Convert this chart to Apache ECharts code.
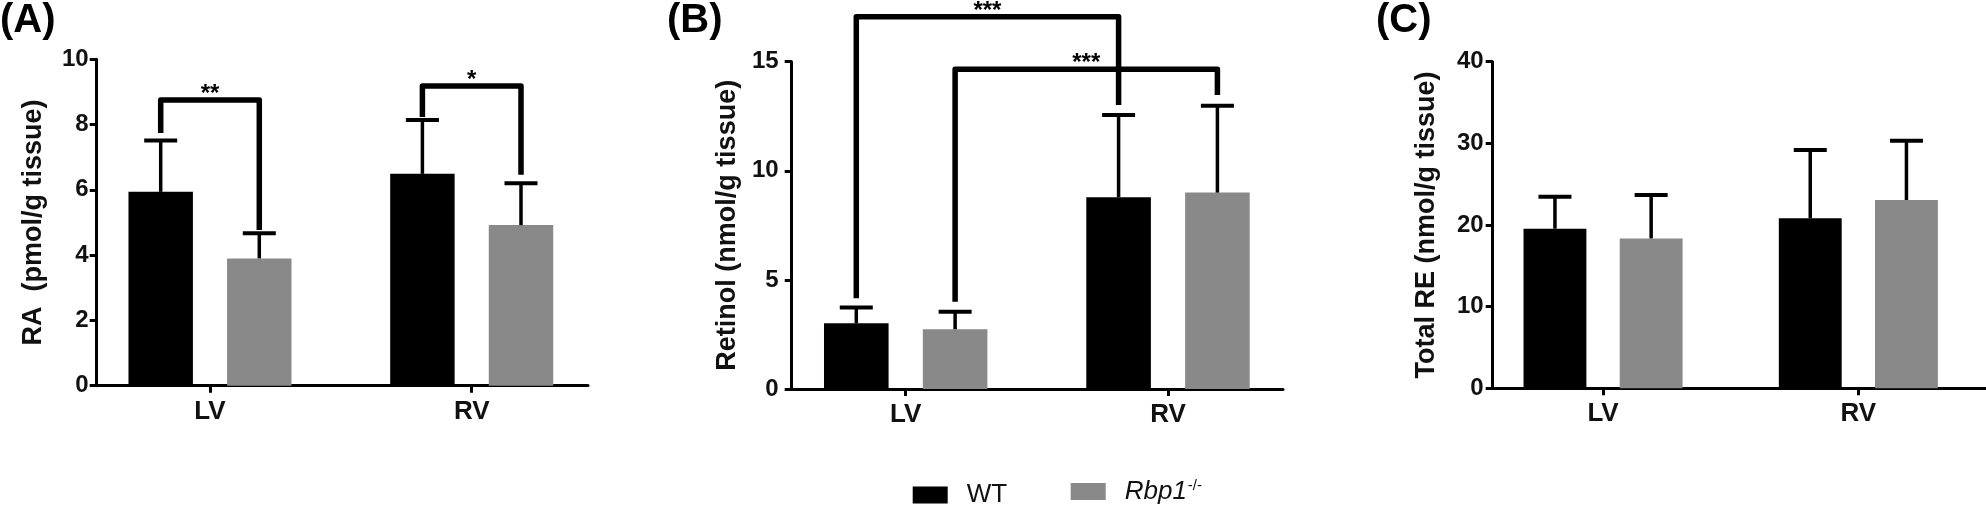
<!DOCTYPE html>
<html>
<head>
<meta charset="utf-8">
<script src="https://cdn.jsdelivr.net/npm/echarts@6/dist/echarts.min.js"></script>
<style>
html,body{margin:0;padding:0;background:#fff;}
#chart{width:1986px;height:508px;}
</style>
</head>
<body>
<div id="chart"></div>
<script>
// ---------- data ----------
const CATEGORIES = ['LV', 'RV'];
const SERIES_NAMES = ['WT', 'Rbp1'];

// Panel A: RA (pmol/g tissue)
const A_WT = [5.94, 6.49];
const A_WT_SD = [1.57, 1.65];
const A_KO = [3.90, 4.92];
const A_KO_SD = [0.77, 1.28];
const A_TICKS = [0, 2, 4, 6, 8, 10];
// brackets: [fromCat, fromSeries, toCat, toSeries, leftEnd, top, rightEnd]
const A_BRACKETS = [[0, 0, 0, 1, 7.74, 8.75, 4.77], [1, 0, 1, 1, 8.23, 9.18, 6.46]];
const A_BRACKET_LABELS = ['**', '*'];

// Panel B: Retinol (nmol/g tissue)
const B_WT = [3.01, 8.79];
const B_WT_SD = [0.73, 3.77];
const B_KO = [2.74, 9.00];
const B_KO_SD = [0.80, 3.98];
const B_TICKS = [0, 5, 10, 15];
const B_BRACKETS = [[0, 0, 1, 0, 4.16, 17.06, 13.02], [0, 1, 1, 1, 4.00, 14.65, 13.47]];
const B_BRACKET_LABELS = ['***', '***'];

// Panel C: Total RE (nmol/g tissue)
const C_WT = [19.55, 20.82];
const C_WT_SD = [3.92, 8.36];
const C_KO = [18.36, 23.06];
const C_KO_SD = [5.32, 7.26];
const C_TICKS = [0, 10, 20, 30, 40];
const C_BRACKETS = [];
const C_BRACKET_LABELS = [];

// ---------- layout / style ----------
const FONT = '"Liberation Sans", Arial, Helvetica, sans-serif';
const COLORS = ['#000000', '#898989'];
const CAT_GAP = 0.377, BAR_GAP = 0.53;

const panels = [
  {letter: '(A)', letterLeft: 0, name: 'RA  (pmol/g tissue)', wt: A_WT, wtSd: A_WT_SD, ko: A_KO, koSd: A_KO_SD,
   ticks: A_TICKS, brackets: A_BRACKETS, labels: A_BRACKET_LABELS,
   catLeft: 79.15, catWidth: 523.4, axLeft: 96.7, axWidth: 491.3, top: 59.3, height: 326.4, nameGap: 50, labelMargin: 8},
  {letter: '(B)', letterLeft: 667, name: 'Retinol (nmol/g tissue)', wt: B_WT, wtSd: B_WT_SD, ko: B_KO, koSd: B_KO_SD,
   ticks: B_TICKS, brackets: B_BRACKETS, labels: B_BRACKET_LABELS,
   catLeft: 774.55, catWidth: 524.6, axLeft: 791.7, axWidth: 491.3, top: 61.7, height: 327.3, nameGap: 51, labelMargin: 13},
  {letter: '(C)', letterLeft: 1376, name: 'Total RE (nmol/g tissue)', wt: C_WT, wtSd: C_WT_SD, ko: C_KO, koSd: C_KO_SD,
   ticks: C_TICKS, brackets: C_BRACKETS, labels: C_BRACKET_LABELS,
   catLeft: 1475.4, catWidth: 525.2, axLeft: 1492.7, axWidth: 493.3, top: 61.7, height: 326.6, nameGap: 53, labelMargin: 9}
];

function barOffset(band) {
  const bw = band * (1 - CAT_GAP) / (2 + BAR_GAP);
  return bw * (1 + BAR_GAP) / 2;
}

function errorRender(params, api) {
  const cat = api.value(0), s = api.value(1), m = api.value(2), sd = api.value(3);
  const band = api.size([1, 0])[0];
  const off = barOffset(band) * (s === 0 ? -1 : 1);
  const p0 = api.coord([cat, m]);
  const p1 = api.coord([cat, m + sd]);
  const x = p0[0] + off;
  return {
    type: 'group',
    children: [
      {type: 'line', shape: {x1: x, y1: p0[1], x2: x, y2: p1[1]}, style: {stroke: '#000', lineWidth: 3.5}},
      {type: 'line', shape: {x1: x - 16.5, y1: p1[1], x2: x + 16.5, y2: p1[1]}, style: {stroke: '#000', lineWidth: 4}}
    ]
  };
}

function bracketRender(labels) {
  return function (params, api) {
    const fc = api.value(0), fs = api.value(1), tc = api.value(2), ts = api.value(3);
    const y1 = api.value(4), top = api.value(5), y2 = api.value(6);
    const band = api.size([1, 0])[0];
    const off = barOffset(band);
    const xa = api.coord([fc, 0])[0] + (fs ? off : -off);
    const xb = api.coord([tc, 0])[0] + (ts ? off : -off);
    const pa = api.coord([fc, y1])[1];
    const pt = api.coord([fc, top])[1];
    const pb = api.coord([tc, y2])[1];
    return {
      type: 'group',
      children: [
        {type: 'polyline', shape: {points: [[xa, pa], [xa, pt], [xb, pt], [xb, pb]]},
         style: {stroke: '#000', lineWidth: 5.5, fill: null, lineJoin: 'round'}},
        {type: 'text', style: {text: labels[params.dataIndex], x: (xa + xb) / 2, y: pt - 5.5,
          align: 'center', verticalAlign: 'middle', fontSize: 24, fontWeight: 'bold', fontFamily: FONT, fill: '#000'}}
      ]
    };
  };
}

const option = {
  animation: false,
  backgroundColor: '#fff',
  title: [], grid: [], xAxis: [], yAxis: [], series: [],
  legend: [
    {data: ['WT'], left: 912.7, top: 482, padding: 0, icon: 'rect', itemWidth: 35, itemHeight: 17,
     textStyle: {fontSize: 26, fontFamily: FONT, color: '#111', padding: [0, 0, 0, 14]}},
    {data: ['Rbp1'], left: 1070.7, top: 478, padding: 0, icon: 'rect', itemWidth: 35, itemHeight: 17,
     formatter: function () { return '{i|Rbp1}{s|-/-}'; },
     textStyle: {fontSize: 26, fontFamily: FONT, color: '#111', padding: [0, 0, 0, 14],
       rich: {i: {fontStyle: 'italic', fontSize: 26, fontFamily: FONT, color: '#111'},
              s: {fontSize: 15, fontFamily: FONT, color: '#111', padding: [0, 0, 12, 1]}}}}
  ]
};

panels.forEach(function (p, k) {
  const g0 = 2 * k, g1 = 2 * k + 1;
  const tmin = p.ticks[0], tmax = p.ticks[p.ticks.length - 1], tint = p.ticks[1] - p.ticks[0];
  option.title.push({text: p.letter, left: p.letterLeft, top: 1, padding: 0,
    textStyle: {fontSize: 40, fontWeight: 'bold', fontFamily: FONT, color: '#000'}});
  option.grid.push({left: p.catLeft, width: p.catWidth, top: p.top, height: p.height});
  option.grid.push({left: p.axLeft, width: p.axWidth, top: p.top, height: p.height});
  option.xAxis.push({type: 'category', gridIndex: g0, data: CATEGORIES,
    axisLine: {show: false},
    axisTick: {show: true, alignWithLabel: true, length: 7, lineStyle: {width: 3, color: '#000'}},
    axisLabel: {fontSize: 26, fontWeight: 'bold', fontFamily: FONT, color: '#111', margin: 13},
    splitLine: {show: false}});
  option.xAxis.push({type: 'value', gridIndex: g1, min: 0, max: 1,
    axisLine: {show: true, lineStyle: {width: 3, color: '#000'}},
    axisTick: {show: false}, axisLabel: {show: false}, splitLine: {show: false}});
  option.yAxis.push({type: 'value', gridIndex: g0, min: tmin, max: tmax, interval: tint, show: false});
  option.yAxis.push({type: 'value', gridIndex: g1, min: tmin, max: tmax, interval: tint,
    name: p.name, nameLocation: 'middle', nameRotate: 90, nameGap: p.nameGap,
    nameTextStyle: {fontSize: 27, fontWeight: 'bold', fontFamily: FONT, color: '#111'},
    axisLine: {show: true, lineStyle: {width: 3, color: '#000'}},
    axisTick: {show: true, length: 7, lineStyle: {width: 3, color: '#000'}},
    axisLabel: {fontSize: 24, fontWeight: 'bold', fontFamily: FONT, color: '#111', margin: p.labelMargin},
    splitLine: {show: false}});
  const vals = [p.wt, p.ko], sds = [p.wtSd, p.koSd];
  SERIES_NAMES.forEach(function (nm, s) {
    option.series.push({type: 'bar', name: nm, xAxisIndex: g0, yAxisIndex: g0, data: vals[s],
      barCategoryGap: (CAT_GAP * 100) + '%', barGap: (BAR_GAP * 100) + '%',
      itemStyle: {color: COLORS[s]}, emphasis: {disabled: true}});
  });
  const errData = [];
  CATEGORIES.forEach(function (c, i) {
    for (let s = 0; s < 2; s++) errData.push([i, s, vals[s][i], sds[s][i]]);
  });
  option.series.push({type: 'custom', xAxisIndex: g0, yAxisIndex: g0, renderItem: errorRender,
    encode: {x: 0, y: 2}, data: errData, z: 5, silent: true});
  if (p.brackets.length) {
    option.series.push({type: 'custom', xAxisIndex: g0, yAxisIndex: g0, renderItem: bracketRender(p.labels),
      encode: {x: 0, y: 5}, data: p.brackets, z: 6, clip: false, silent: true});
  }
});

const chart = echarts.init(document.getElementById('chart'), null, {renderer: 'canvas'});
chart.setOption(option);
</script>
</body>
</html>
